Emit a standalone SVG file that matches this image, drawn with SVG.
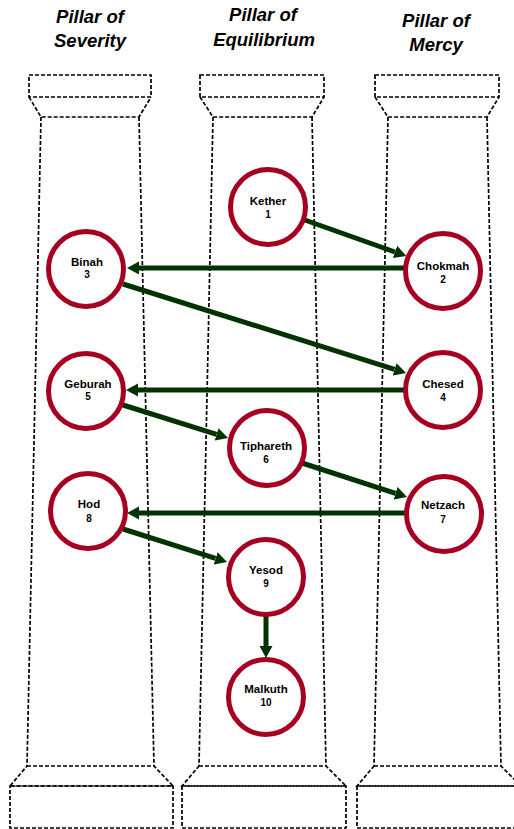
<svg xmlns="http://www.w3.org/2000/svg" width="514" height="829" viewBox="0 0 514 829">
<defs>
<style>
.pillar{fill:none;stroke:#000;stroke-width:1.7;stroke-dasharray:4 2;}
.title{font-family:"Liberation Sans",Arial,sans-serif;font-weight:bold;font-style:italic;font-size:18.5px;fill:#000;text-anchor:middle;}
.ring{fill:#fff;stroke:#a50021;stroke-width:5;}
.name{font-family:"Liberation Sans",Arial,sans-serif;font-weight:bold;font-size:11.5px;fill:#000;text-anchor:middle;}
.num{font-family:"Liberation Sans",Arial,sans-serif;font-weight:bold;font-size:10px;fill:#000;text-anchor:middle;}
.arrow{stroke:#003300;stroke-width:5;fill:none;marker-end:url(#ah);}
</style>
<marker id="ah" markerUnits="userSpaceOnUse" markerWidth="13" markerHeight="14" refX="0" refY="6.5" orient="auto" viewBox="0 0 13 13">
<path d="M0,0 L12,6.5 L0,13 Z" fill="#003300"/>
</marker>
</defs>
<rect width="514" height="829" fill="#fff"/>

<g id="titles">
<text class="title" x="90" y="23">Pillar of</text>
<text class="title" x="90" y="47">Severity</text>
<text class="title" x="263" y="21">Pillar of</text>
<text class="title" x="264" y="46">Equilibrium</text>
<text class="title" x="436" y="27">Pillar of</text>
<text class="title" x="436" y="51">Mercy</text>
</g>

<g id="pillar-severity" class="pillar">
<rect x="29" y="75" width="122" height="22"/>
<path d="M29,97 L41,117 L139,117 L151,97"/>
<path d="M41,117 L27,766 M139,117 L154,766"/>
<path d="M27,766 L154,766 L173,786 L10,786 Z"/>
<rect x="10" y="786" width="163" height="42"/>
</g>
<g id="pillar-equilibrium" class="pillar">
<rect x="200" y="75" width="124" height="22"/>
<path d="M200,97 L213,117 L312,117 L324,97"/>
<path d="M213,117 L199,766 M312,117 L326,766"/>
<path d="M199,766 L326,766 L346,786 L182,786 Z"/>
<rect x="182" y="786" width="164" height="42"/>
</g>
<g id="pillar-mercy" class="pillar">
<rect x="375" y="75" width="124" height="22"/>
<path d="M375,97 L388,117 L487,117 L499,97"/>
<path d="M388,117 L374,766 M487,117 L501,766"/>
<path d="M374,766 L501,766 L521,786 L357,786 Z"/>
<rect x="357" y="786" width="164" height="42"/>
</g>

<g id="connectors">
<line class="arrow" x1="302" y1="219" x2="395" y2="252"/>
<line class="arrow" x1="405" y1="268" x2="139" y2="268"/>
<line class="arrow" x1="123" y1="284" x2="394.6" y2="369.4"/>
<line class="arrow" x1="405" y1="390" x2="138" y2="390"/>
<line class="arrow" x1="123" y1="405" x2="216.6" y2="434.4"/>
<line class="arrow" x1="302" y1="463" x2="395.6" y2="493.3"/>
<line class="arrow" x1="405" y1="513" x2="139" y2="513"/>
<line class="arrow" x1="123" y1="529" x2="215.6" y2="558.4"/>
<line class="arrow" x1="266" y1="615" x2="266" y2="646"/>
</g>

<g id="kether"><circle class="ring" cx="268" cy="207" r="37.5"/><text class="name" x="268" y="205">Kether</text><text class="num" x="268" y="218">1</text></g>
<g id="chokmah"><circle class="ring" cx="443" cy="271" r="37.5"/><text class="name" x="443" y="270">Chokmah</text><text class="num" x="443" y="283">2</text></g>
<g id="binah"><circle class="ring" cx="86" cy="269" r="37.5"/><text class="name" x="87" y="266">Binah</text><text class="num" x="87" y="278">3</text></g>
<g id="chesed"><circle class="ring" cx="443" cy="390" r="37.5"/><text class="name" x="443" y="388">Chesed</text><text class="num" x="443" y="401">4</text></g>
<g id="geburah"><circle class="ring" cx="86" cy="391" r="37.5"/><text class="name" x="88" y="388">Geburah</text><text class="num" x="88" y="400">5</text></g>
<g id="tiphareth"><circle class="ring" cx="267" cy="448" r="37.5"/><text class="name" x="266" y="450">Tiphareth</text><text class="num" x="266" y="463">6</text></g>
<g id="netzach"><circle class="ring" cx="444" cy="514" r="37.5"/><text class="name" x="443" y="509">Netzach</text><text class="num" x="443" y="523">7</text></g>
<g id="hod"><circle class="ring" cx="88" cy="511" r="37.5"/><text class="name" x="89" y="508">Hod</text><text class="num" x="89" y="522">8</text></g>
<g id="yesod"><circle class="ring" cx="266" cy="577" r="37.5"/><text class="name" x="266" y="574">Yesod</text><text class="num" x="266" y="587">9</text></g>
<g id="malkuth"><circle class="ring" cx="266" cy="697" r="37.5"/><text class="name" x="266" y="693">Malkuth</text><text class="num" x="266" y="706">10</text></g>
</svg>
